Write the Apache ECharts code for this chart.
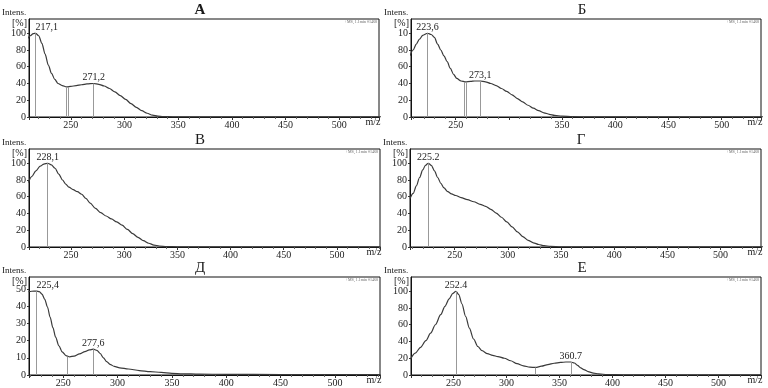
<!DOCTYPE html>
<html>
<head>
<meta charset="utf-8">
<script src="https://cdn.jsdelivr.net/npm/echarts@6/dist/echarts.min.js"></script>
<style>
  html, body { margin: 0; padding: 0; background: #fff; }
  #main { width: 768px; height: 388px; }
</style>
</head>
<body>
<div id="main"></div>
<script>
// ---- spectrum А
const mzA = [209.5, 212, 215, 217.1, 220, 223, 226, 229, 232, 235, 238, 242, 246, 250, 255, 260, 265, 271.2, 276, 281, 286, 291, 296, 301, 306, 311, 316, 321, 326, 331, 336, 345, 360, 400, 450, 500, 540];
const intA = [93, 97, 99.5, 100, 97, 88, 75, 62, 52, 45, 40, 37.5, 36, 36.5, 37.5, 38.5, 39.5, 40, 39, 37, 34, 30, 25.5, 21, 16, 11.5, 7.5, 4.5, 2.2, 1, 0.5, 0.2, 0.1, 0.1, 0.1, 0.1, 0.1];
const peakMzA = [217.1, 245.5, 247.1, 271.2];
const peakIntA = [100, 36, 36, 40];
const peakTextA = ['217,1', '', '', '271,2'];

// ---- spectrum Б
const mzB = [207, 210, 213, 216, 219, 223.6, 227, 230, 233, 236, 239, 242, 245, 248, 251, 255, 259, 264, 268, 273.1, 278, 283, 288, 293, 298, 303, 308, 313, 318, 323, 328, 333, 338, 343, 350, 360, 375, 400, 450, 500, 540];
const intB = [73, 80, 87, 93, 97.5, 100, 98.5, 95, 87, 80, 73, 66, 58, 51, 46, 43, 42, 42.5, 43, 43, 42, 40, 37.5, 34, 30.5, 26.5, 22, 18, 14, 10.5, 7.5, 5, 3.2, 2, 1, 0.4, 0.2, 0.1, 0.1, 0.1, 0.1];
const peakMzB = [223.6, 258, 260, 273.1];
const peakIntB = [100, 42, 42, 43];
const peakTextB = ['223,6', '', '', '273,1'];

// ---- spectrum В
const mzC = [210, 213, 217, 221, 224.5, 228.1, 231.5, 235, 238.5, 242, 245, 248, 252, 256, 260, 264, 268, 273, 278, 283, 288, 293, 298, 303, 308, 313, 318, 323, 328, 333, 340, 350, 365, 400, 450, 500, 541];
const intC = [77, 84, 91, 96.5, 99, 100, 98, 94, 87, 80, 75, 71.5, 68.5, 66, 63, 58, 52.5, 46, 41, 37, 33.5, 30, 26, 21, 16, 11.5, 7.5, 4.5, 2.3, 1.2, 0.5, 0.2, 0.1, 0.1, 0.1, 0.1, 0.1];
const peakMzC = [228.1];
const peakIntC = [100];
const peakTextC = ['228,1'];

// ---- spectrum Г
const mzD = [208, 211, 214, 217, 220, 222.5, 225.2, 228, 231, 234, 237, 240, 243.5, 247, 251, 256, 262, 268, 274, 279, 284, 289, 294, 299, 304, 309, 314, 319, 324, 329, 334, 340, 350, 365, 400, 450, 500, 540];
const intD = [58, 64, 73, 83, 92, 97.5, 100, 97.5, 91, 83, 76, 70.5, 66, 63.5, 61.5, 59, 56.5, 54, 51, 48.5, 45, 40.5, 35.5, 30, 24, 18, 12.5, 8, 5, 3, 1.6, 0.8, 0.3, 0.1, 0.1, 0.1, 0.1, 0.1];
const peakMzD = [225.2];
const peakIntD = [100];
const peakTextD = ['225.2'];

// ---- spectrum Д
const mzE = [218, 221, 225.4, 228, 230.5, 233, 235.5, 238, 240.5, 243, 246, 249, 252.5, 256, 260, 265, 270, 274, 277.6, 281, 284, 287, 290, 293, 297, 302, 310, 320, 330, 340, 350, 360, 375, 400, 450, 500, 542];
const intE = [48.4, 48.7, 48.8, 48.5, 47, 44, 39.5, 33.5, 27.5, 22, 17, 13.5, 11.3, 10.6, 11, 12.3, 13.6, 14.6, 15, 14.3, 12.5, 10, 7.8, 6.2, 5, 4.2, 3.5, 2.6, 2, 1.5, 1, 0.7, 0.5, 0.4, 0.3, 0.3, 0.3];
const peakMzE = [225.4, 254, 277.6];
const peakIntE = [48.8, 10.6, 15];
const peakTextE = ['225,4', '', '277,6'];

// ---- spectrum Е
const mzF = [209.5, 214, 219, 224, 228.5, 233, 238, 242, 246, 249.5, 252.4, 255, 258, 261.5, 265, 269, 273, 277, 282, 287, 292, 298, 304, 310, 316, 322, 327.5, 333, 339, 345, 351, 356, 360.7, 364, 367, 370, 373, 377, 382, 387, 395, 410, 450, 500, 540];
const intF = [19, 26, 33, 41, 50, 60, 72, 82, 91, 97.5, 100, 96, 85, 70, 56, 43, 34, 29, 25.5, 23.5, 22, 20, 17, 13.5, 11, 9.3, 9, 10.5, 12.5, 14, 15, 15.5, 15.5, 14.3, 11.5, 8.5, 6.5, 4, 2.3, 1.3, 0.5, 0.3, 0.2, 0.2, 0.2];
const peakMzF = [252.4, 327.5, 360.7];
const peakIntF = [100, 9, 15.5];
const peakTextF = ['252.4', '', '360.7'];

const serif = '"Liberation Serif", "DejaVu Serif", serif';
const PH = 98; // plot height

// layout of the six panels
const panels = [
  { title: 'А', bold: true, mz: mzA, val: intA, pMz: peakMzA, pVal: peakIntA, pText: peakTextA, left: 29, top: 19, width: 350, xMin: 211, xMax: 537, yMax: 117, yStep: 20, leftLabel: true },
  { title: 'Б', mz: mzB, val: intB, pMz: peakMzB, pVal: peakIntB, pText: peakTextB, left: 411, top: 19, width: 350, xMin: 208, xMax: 537, yMax: 117, yStep: 20, hideX: [300], yText: { 100: '10' } },
  { title: 'В', mz: mzC, val: intC, pMz: peakMzC, pVal: peakIntC, pText: peakTextC, left: 29, top: 149, width: 351, xMin: 210.5, xMax: 540.5, yMax: 117, yStep: 20 },
  { title: 'Г', mz: mzD, val: intD, pMz: peakMzD, pVal: peakIntD, pText: peakTextD, left: 410, top: 149, width: 351, xMin: 208, xMax: 538, yMax: 117, yStep: 20 },
  { title: 'Д', mz: mzE, val: intE, pMz: peakMzE, pVal: peakIntE, pText: peakTextE, left: 29, top: 277, width: 351, xMin: 218.5, xMax: 541.5, yMax: 57, yStep: 10, leftLabel: true },
  { title: 'Е', mz: mzF, val: intF, pMz: peakMzF, pVal: peakIntF, pText: peakTextF, left: 411, top: 277, width: 350, xMin: 210, xMax: 540, yMax: 117, yStep: 20 }
];

const txt = (x, y, text, size, align, extra) => ({
  type: 'text', x: x, y: y, silent: true,
  style: Object.assign({
    text: text, fontSize: size, fontFamily: serif, fill: '#1a1a1a',
    align: align, textAlign: align, verticalAlign: 'middle', textVerticalAlign: 'middle'
  }, extra || {})
});

const graphics = [];
panels.forEach(p => {
  const r = p.left + p.width, b = p.top + PH;
  graphics.push(txt(p.left + 171, p.top - 9, p.title, 15, 'center', p.bold ? { fontWeight: 'bold' } : null));
  graphics.push(txt(p.left - 27, p.top - 6, 'Intens.', 9, 'left'));
  graphics.push(txt(p.left - 2, p.top + 4, '[%]', 10, 'right'));
  graphics.push(txt(r - 6, b + 5, 'm/z', 10, 'center'));
  graphics.push(txt(r - 2, p.top + 3, '+MS, 1.1min #1468', 4, 'right', { fill: '#666' }));
});

const myChart = echarts.init(document.getElementById('main'), null, { renderer: 'canvas' });

myChart.setOption({
  animation: false,
  backgroundColor: '#fff',
  grid: panels.map(p => ({
    left: p.left, top: p.top, width: p.width, height: PH,
    show: true, borderColor: '#111', borderWidth: 1, backgroundColor: 'transparent'
  })),
  xAxis: panels.map((p, i) => ({
    type: 'value', gridIndex: i, min: p.xMin, max: p.xMax, splitNumber: 6,
    axisLine: { show: true, lineStyle: { color: '#111', width: 1 } },
    axisTick: { show: true, length: 3, lineStyle: { color: '#333' } },
    minorTick: { show: true, splitNumber: 5, length: 2, lineStyle: { color: '#666' } },
    splitLine: { show: false },
    axisLabel: {
      fontFamily: serif, fontSize: 10, color: '#222', margin: 3,
      showMinLabel: false, showMaxLabel: false,
      formatter: v => (v % 50 === 0 && !(p.hideX || []).includes(v)) ? String(v) : ''
    }
  })),
  yAxis: panels.map((p, i) => ({
    type: 'value', gridIndex: i, min: 0, max: p.yMax, interval: p.yStep,
    axisLine: { show: true, lineStyle: { color: '#111', width: 1 } },
    axisTick: { show: true, length: 2, lineStyle: { color: '#333' } },
    splitLine: { show: false },
    axisLabel: {
      fontFamily: serif, fontSize: 10, color: '#222', margin: 3, showMaxLabel: false,
      formatter: v => (p.yText && p.yText[v]) ? p.yText[v] : String(v)
    }
  })),
  series: panels.map((p, i) => ({
    type: 'line', xAxisIndex: i, yAxisIndex: i,
    data: p.mz.map((m, k) => [m, p.val[k]]),
    showSymbol: false, smooth: 0.3, smoothMonotone: 'x', clip: true,
    lineStyle: { color: '#3a3a3a', width: 1.2 },
    emphasis: { disabled: true },
    markLine: {
      silent: true, animation: false, symbol: ['none', 'none'],
      lineStyle: { color: '#999', width: 1, type: 'solid' },
      emphasis: { disabled: true },
      label: { show: false },
      data: p.pMz.map((m, k) => [
        { coord: [m, 0] },
        {
          coord: [m, p.pVal[k]],
          label: p.pText[k] ? {
            show: true, position: 'end', formatter: p.pText[k], distance: 1,
            fontFamily: serif, fontSize: 10, color: '#222',
            align: (p.leftLabel && k === 0) ? 'left' : 'center'
          } : { show: false }
        }
      ])
    }
  })),
  graphic: graphics
});

window.addEventListener('resize', () => {
  myChart.resize();
});
</script>
</body>
</html>
